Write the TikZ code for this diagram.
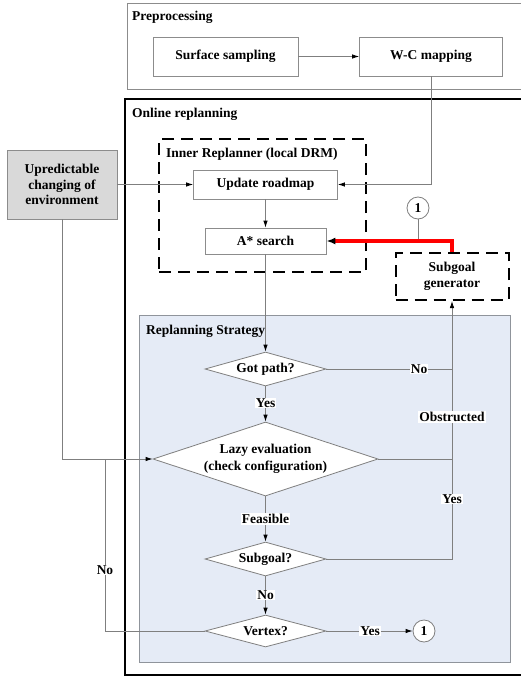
\documentclass[tikz,border=0pt]{standalone}
\usepackage{fontspec}
\setmainfont{Liberation Serif}
\usetikzlibrary{arrows.meta,shapes.geometric}
\definecolor{lgray}{HTML}{7F7F7F}
\definecolor{boxgray}{HTML}{8C8C8C}
\definecolor{stratblue}{HTML}{E5EBF6}
\definecolor{stratedge}{HTML}{8F949B}
\definecolor{envgray}{HTML}{D9D9D9}
\begin{document}
\begin{tikzpicture}[x=1pt,y=-1pt,
  every node/.style={font=\fontsize{13.5}{15.5}\selectfont\bfseries, inner sep=0pt},
  box/.style={draw=boxgray, line width=0.8pt, fill=white, rectangle},
  dbox/.style={draw=black, line width=2pt, dash pattern=on 12pt off 7pt, rectangle},
  dia/.style={draw=lgray, line width=0.8pt, fill=white, diamond, inner sep=0pt},
  circ/.style={draw=lgray, line width=0.8pt, fill=white, circle, minimum size=22pt},
  conn/.style={draw=lgray, line width=0.8pt},
  arr/.style={conn, -{Latex[length=7pt,width=4.5pt,color=black]}},
  lbl/.style={fill=white, inner sep=1pt},
  title/.style={anchor=west}]
\useasboundingbox (0,0) rectangle (521,677);
% containers
\node[draw=boxgray, line width=0.8pt, minimum width=400pt, minimum height=86pt] (pre) at (327,46) {};
\node[title] (pret) at (132,17) {Preprocessing};
\node[draw=black, line width=2.4pt, minimum width=405pt, minimum height=576pt] (onl) at (327.5,387) {};
\node[title] (onlt) at (132,114) {Online replanning};
\node[draw=stratedge, line width=0.8pt, fill=stratblue, minimum width=371pt, minimum height=347pt] (strat) at (324.5,488.5) {};
\node[title] (stratt) at (146,331) {Replanning Strategy};
\node[dbox, minimum width=207pt, minimum height=133pt] (inner) at (262.5,205.5) {};
\node[title] (innert) at (166,154) {Inner Replanner (local DRM)};
% boxes
\node[box, minimum width=145pt, minimum height=39pt] (ss) at (225.5,56.5) {Surface sampling};
\node[box, minimum width=143pt, minimum height=39pt] (wc) at (431,56.5) {W-C mapping};
\node[box, minimum width=144pt, minimum height=29pt] (ur) at (265.5,184.5) {Update roadmap};
\node[box, minimum width=121pt, minimum height=26pt] (as) at (265.5,241) {A* search};
\node[draw=boxgray, line width=0.8pt, fill=envgray, minimum width=110pt, minimum height=69pt, align=center] (env) at (62,184.5) {Upredictable\\changing of\\environment};
\node[dbox, minimum width=113pt, minimum height=47pt, align=center] (sg) at (452,276.5) {Subgoal\\generator};
\node[circ] (c1) at (418,208) {1};
% diamonds
\node[dia, minimum width=121pt, minimum height=34pt] (gp) at (265.5,369) {};
\node (gpt) at (gp) {Got path?};
\node[dia, minimum width=225pt, minimum height=74pt] (lz) at (265.5,459) {};
\node[align=center, font=\fontsize{13.5}{16.5}\selectfont\bfseries] (lzt) at (265.5,459) {Lazy evaluation\\(check configuration)};
\node[dia, minimum width=121pt, minimum height=34pt] (sq) at (265.5,559) {};
\node (sqt) at (sq) {Subgoal?};
\node[dia, minimum width=121pt, minimum height=32pt] (vx) at (265.5,631) {};
\node (vxt) at (vx) {Vertex?};
\node[circ] (c2) at (424,631) {1};
\coordinate (j) at (105,459);
% connectors
\draw[arr] (ss) -- (wc);
\draw[arr] (wc.south) |- (ur.east);
\draw[arr] (env.east) -- (ur.west);
\draw[arr] (ur) -- (as);
\draw[conn] (c1.south) -- (c1.south |- as.east);
\draw[red, line width=3.4pt, -{Latex[length=9pt,width=7pt,color=black]}] (sg.north) |- (as.east);
\draw[arr] (as) -- (gp);
\draw[arr] (gp) -- (lz);
\draw[arr] (lz) -- (sq);
\draw[arr] (sq) -- (vx);
\draw[conn] (gp.east) -- (gp.east -| sg.south);
\draw[conn] (lz.east) -- (lz.east -| sg.south);
\draw[arr] (sq.east) -| (sg.south);
\draw[arr] (vx.east) -- (c2.west);
\draw[arr] (env.south) |- (lz.west);
\draw[conn] (vx.west) -| (j);
% labels on connectors
\node[lbl] (lno1) at (419,369) {No};
\node[lbl] (lyes1) at (265.5,403) {Yes};
\node[lbl] (lobs) at (452,417) {Obstructed};
\node[lbl] (lyes2) at (452,499) {Yes};
\node[lbl] (lfeas) at (265.5,519) {Feasible};
\node[lbl] (lno2) at (265.5,595) {No};
\node[lbl] (lyes3) at (370,631) {Yes};
\node[lbl] (lno3) at (105,570) {No};
\end{tikzpicture}
\end{document}
